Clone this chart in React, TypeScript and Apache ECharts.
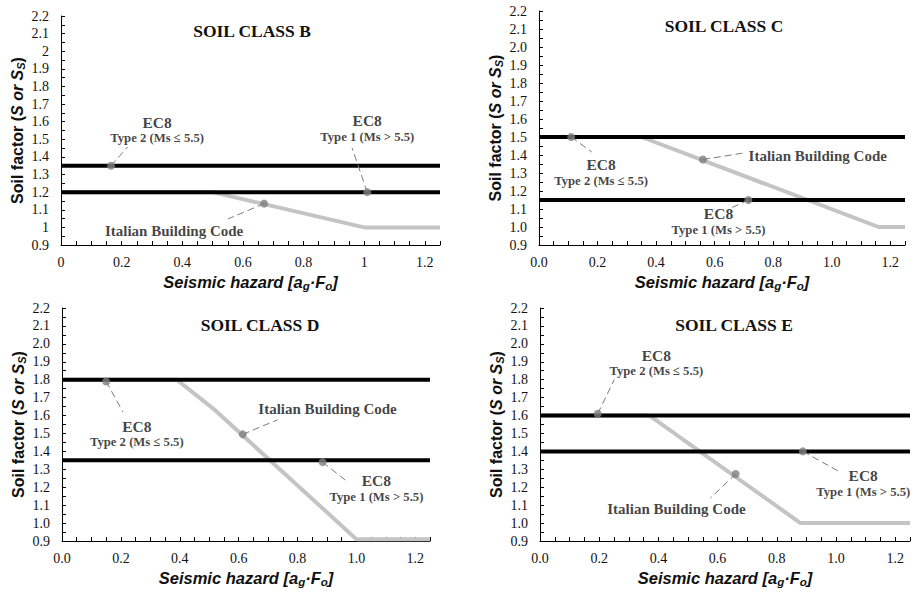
import React, { useEffect, useRef } from 'react';
import * as echarts from 'echarts';

// Soil classes shown, one panel each
const soilClasses = ['B', 'C', 'D', 'E'];

// EC8 soil factor S for the two spectrum types
const ec8Type1 = [1.2, 1.15, 1.35, 1.4];
const ec8Type2 = [1.35, 1.5, 1.8, 1.6];

// Italian Building Code Ss versus ag·Fo (break points of each curve)
const italianB = [[0, 1.2], [0.5, 1.2], [1.0, 1.0], [1.25, 1.0]];
const italianC = [[0, 1.5], [0.35, 1.5], [1.16, 1.0], [1.25, 1.0]];
const italianD = [[0, 1.8], [0.39, 1.8], [0.52, 1.63], [1.0, 0.91], [1.25, 0.91]];
const italianE = [[0, 1.6], [0.37, 1.6], [0.88, 1.0], [1.25, 1.0]];
const italianCode = [italianB, italianC, italianD, italianE];

// Callout dots placed on the curves
const type2Marker = [[0.165, 1.35], [0.11, 1.5], [0.15, 1.79], [0.195, 1.61]];
const type1Marker = [[1.01, 1.2], [0.715, 1.15], [0.885, 1.34], [0.888, 1.4]];
const italianMarker = [[0.67, 1.135], [0.56, 1.375], [0.614, 1.495], [0.661, 1.274]];

// Axis ranges and tick steps
const xMin = 0;
const xMax = 1.25;
const xStep = 0.05;
const xLabelStep = 0.2;
const yMin = 0.9;
const yMax = 2.2;
const yStep = 0.1;

// Panel layout (pixels)
const gridBoxes = [
  { left: 61, top: 16, width: 379, height: 229 },
  { left: 539, top: 11, width: 366, height: 234 },
  { left: 62, top: 308, width: 368, height: 233 },
  { left: 540, top: 308, width: 370, height: 233 },
];
const titleAt = [[252, 31], [724, 26], [260, 325], [734, 325]];

// Leader end and label centre of each callout, in axis units
const type2Callout = [
  { end: [0.22, 1.457], label: [0.317, 1.553] },
  { end: [0.18, 1.417], label: [0.212, 1.303] },
  { end: [0.207, 1.62], label: [0.254, 1.498] },
  { end: [0.251, 1.8], label: [0.393, 1.894] },
];
const type1Callout = [
  { end: [0.96, 1.451], label: [1.01, 1.562] },
  { end: [0.66, 1.109], label: [0.613, 1.031] },
  { end: [0.97, 1.23], label: [1.068, 1.193] },
  { end: [1.007, 1.291], label: [1.092, 1.221] },
];
const italianCallout = [
  { end: [0.551, 1.048], label: [0.373, 0.98] },
  { end: [0.699, 1.411], label: [0.952, 1.394] },
  { end: [0.732, 1.576], label: [0.902, 1.637] },
  { end: [0.576, 1.14], label: [0.461, 1.079] },
];

const SERIF = '"Liberation Serif", "Times New Roman", serif';
const SANS = '"Liberation Sans", Arial, sans-serif';
const TEXT = '#111';

const isMultiple = (v: number, step: number) => Math.abs(v / step - Math.round(v / step)) < 1e-6;

function buildOption(): echarts.EChartsOption {
  const grid: any[] = [];
  const xAxis: any[] = [];
  const yAxis: any[] = [];
  const series: any[] = [];
  const graphic: any[] = [];

  soilClasses.forEach((cls, i) => {
    const plain = i === 0; // class B panel prints "0", "1", "2" without decimals
    const fmt = (v: number) => (plain ? String(parseFloat(v.toFixed(1))) : v.toFixed(1));

    grid.push({ ...gridBoxes[i], containLabel: false });

    xAxis.push({
      gridIndex: i,
      type: 'value',
      min: xMin,
      max: xMax,
      interval: xStep,
      splitLine: { show: false },
      axisLine: { lineStyle: { color: '#000', width: 1 } },
      axisTick: { show: true, inside: true, length: 4, lineStyle: { color: '#000' } },
      axisLabel: {
        margin: 10,
        fontFamily: SERIF,
        fontSize: 14,
        color: TEXT,
        formatter: (v: number) => (isMultiple(v, xLabelStep) ? fmt(v) : ''),
      },
      name: '{t|Seismic hazard [a}{s|g}{t|·F}{s|o}{t|]}',
      nameLocation: 'middle',
      nameGap: 27,
      nameTextStyle: {
        rich: {
          t: { fontFamily: SANS, fontWeight: 'bold', fontStyle: 'italic', fontSize: 16.5, color: TEXT, lineHeight: 20 },
          s: {
            fontFamily: SANS, fontWeight: 'bold', fontStyle: 'italic', fontSize: 11.5, color: TEXT,
            lineHeight: 12, padding: [8, 0, 0, 0],
          },
        },
      },
    });

    yAxis.push({
      gridIndex: i,
      type: 'value',
      min: yMin,
      max: yMax,
      interval: yStep,
      splitLine: { show: false },
      axisLine: { show: true, lineStyle: { color: '#000', width: 1 } },
      axisTick: { show: true, inside: true, length: 4, lineStyle: { color: '#000' } },
      minorTick: { show: true, splitNumber: 2, length: 4, lineStyle: { color: '#000' } },
      axisLabel: { margin: 12, fontFamily: SERIF, fontSize: 14, color: TEXT, formatter: fmt },
      name: '{t|Soil factor (}{i|S or S}{s|S}{t|)}',
      nameLocation: 'middle',
      nameGap: 34,
      nameTextStyle: {
        rich: {
          t: { fontFamily: SANS, fontWeight: 'bold', fontSize: 16, color: TEXT, lineHeight: 20 },
          i: { fontFamily: SANS, fontWeight: 'bold', fontStyle: 'italic', fontSize: 16, color: TEXT, lineHeight: 20 },
          s: {
            fontFamily: SANS, fontWeight: 'bold', fontStyle: 'italic', fontSize: 11, color: TEXT,
            lineHeight: 12, padding: [8, 0, 0, 0],
          },
        },
      },
    });

    const axes = { xAxisIndex: i, yAxisIndex: i };

    series.push({
      ...axes,
      type: 'line',
      name: `Italian Building Code ${cls}`,
      data: italianCode[i],
      symbol: 'none',
      lineStyle: { color: '#c4c4c4', width: 4 },
      z: 2,
    });
    [ec8Type1[i], ec8Type2[i]].forEach((s, k) => {
      series.push({
        ...axes,
        type: 'line',
        name: `EC8 Type ${k + 1} ${cls}`,
        data: [[xMin, s], [xMax, s]],
        symbol: 'none',
        lineStyle: { color: '#000', width: 4 },
        z: 3,
      });
    });

    const dots = [type2Marker[i], type1Marker[i], italianMarker[i]];
    const callouts = [type2Callout[i], type1Callout[i], italianCallout[i]];

    series.push({
      ...axes,
      type: 'lines',
      coordinateSystem: 'cartesian2d',
      data: dots.map((d, k) => ({ coords: [d, callouts[k].end] })),
      lineStyle: { color: '#7a7a7a', width: 1, type: [7, 4], opacity: 1 },
      z: 4,
    });

    series.push({
      ...axes,
      type: 'scatter',
      data: dots,
      symbolSize: 8,
      itemStyle: { color: '#808080' },
      z: 5,
    });

    const ecLabel = (type: string) => `{e|EC8}\n{t|${type}}`;
    series.push({
      ...axes,
      type: 'scatter',
      symbolSize: 0,
      z: 6,
      data: [
        { value: callouts[0].label, label: { formatter: ecLabel('Type 2 (Ms ≤ 5.5)') } },
        { value: callouts[1].label, label: { formatter: ecLabel('Type 1 (Ms > 5.5)') } },
        { value: callouts[2].label, label: { formatter: '{c|Italian Building Code}' } },
      ],
      label: {
        show: true,
        position: 'inside',
        align: 'center',
        verticalAlign: 'middle',
        rich: {
          e: { fontFamily: SERIF, fontWeight: 'bold', fontSize: 15.5, color: TEXT, lineHeight: 17, align: 'center' },
          t: { fontFamily: SERIF, fontWeight: 'bold', fontSize: 12.7, color: TEXT, lineHeight: 15, align: 'center' },
          c: { fontFamily: SERIF, fontWeight: 'bold', fontSize: 15, color: TEXT, lineHeight: 17, align: 'center' },
        },
      },
      emphasis: { disabled: true },
    });

    graphic.push({
      type: 'text',
      x: titleAt[i][0],
      y: titleAt[i][1],
      style: {
        text: `SOIL CLASS ${cls}`,
        font: `bold 17.5px ${SERIF}`,
        fill: TEXT,
        align: 'center',
        verticalAlign: 'middle',
      },
    });
  });

  return {
    animation: false,
    backgroundColor: '#fff',
    grid,
    xAxis,
    yAxis,
    series,
    graphic,
  };
}

export default function App() {
  const ref = useRef<HTMLDivElement>(null);

  useEffect(() => {
    if (!ref.current) return;
    const chart = echarts.init(ref.current, undefined, { renderer: 'svg' });
    chart.setOption(buildOption());
    return () => chart.dispose();
  }, []);

  return (
    <div
      ref={ref}
      style={{ position: 'fixed', left: 0, top: 0, width: 915, height: 593, background: '#fff' }}
    />
  );
}
